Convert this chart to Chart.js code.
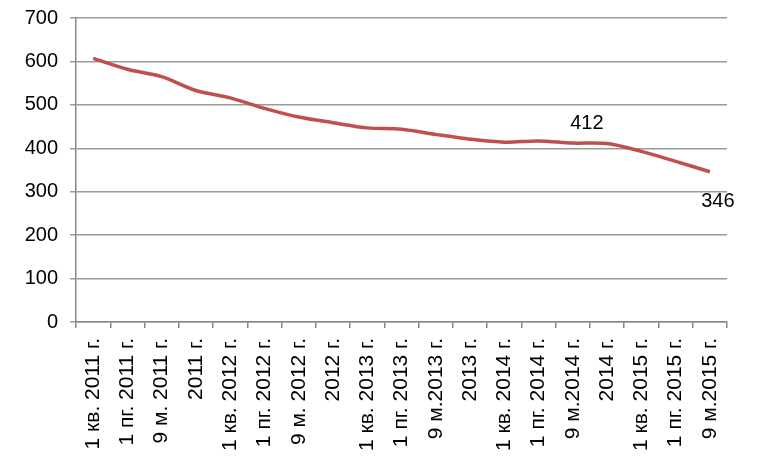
<!DOCTYPE html>
<html>
<head>
<meta charset="utf-8">
<script src="https://cdn.jsdelivr.net/npm/chart.js@4/dist/chart.umd.min.js"></script>
<style>
  html, body { margin: 0; padding: 0; background: #fff; }
  #wrap { width: 774px; height: 469px; }
</style>
</head>
<body>
<div id="wrap"><canvas id="grafik" width="774" height="469"></canvas></div>
<script>
// периоды и значения
const periody = [
  '1 кв. 2011 г.', '1 пг. 2011 г.', '9 м. 2011 г.', '2011 г.',
  '1 кв. 2012 г.', '1 пг. 2012 г.', '9 м. 2012 г.', '2012 г.',
  '1 кв. 2013 г.', '1 пг. 2013 г.', '9 м.2013 г.', '2013 г.',
  '1 кв. 2014 г.', '1 пг. 2014 г.', '9 м.2014 г.', '2014 г.',
  '1 кв. 2015 г.', '1 пг. 2015 г.', '9 м.2015 г.'
];
const znacheniya = [607, 582, 565, 533, 516, 492, 472, 459, 447, 444, 432, 421, 414, 417, 412, 411, 393, 370, 346];
const yTiki = [0, 100, 200, 300, 400, 500, 600, 700];
// подписи только у двух точек: индекс и сдвиг подписи
const podpisi = [
  { i: 14, dx: 14, dy: -20 },
  { i: 18, dx: 8, dy: 30 }
];

const shrift = "'Liberation Sans', Arial, sans-serif";

const podpisiPlugin = {
  id: 'podpisi',
  afterDatasetsDraw(chart) {
    const ctx = chart.ctx;
    const meta = chart.getDatasetMeta(0);
    ctx.save();
    ctx.font = '20px ' + shrift;
    ctx.fillStyle = '#000';
    ctx.textAlign = 'center';
    ctx.textBaseline = 'middle';
    podpisi.forEach(p => {
      const pt = meta.data[p.i];
      ctx.fillText(String(znacheniya[p.i]), pt.x + p.dx, pt.y + p.dy);
    });
    ctx.restore();
  }
};

new Chart(document.getElementById('grafik'), {
  type: 'line',
  data: {
    labels: periody,
    datasets: [{
      data: znacheniya,
      borderColor: '#C0504D',
      borderWidth: 3.5,
      pointRadius: 0,
      tension: 0.3,
      fill: false
    }]
  },
  options: {
    responsive: false,
    animation: false,
    layout: { padding: { top: 0, right: 47, left: 0, bottom: 0 } },
    plugins: {
      legend: { display: false },
      tooltip: { enabled: false }
    },
    scales: {
      x: {
        offset: true,
        grid: { offset: true, drawOnChartArea: false, tickLength: 6, color: '#888', lineWidth: 1.5 },
        border: { color: '#888', width: 1.5 },
        ticks: {
          autoSkip: false, minRotation: 90, maxRotation: 90, padding: 10,
          color: '#000', font: { family: shrift, size: 21 }
        },
        afterFit(scale) { scale.height = 147; }
      },
      y: {
        min: 0, max: 700,
        afterBuildTicks(scale) { scale.ticks = yTiki.map(v => ({ value: v })); },
        grid: { color: '#9a9a9a', lineWidth: 1.5, tickLength: 6 },
        border: { color: '#888', width: 1.5 },
        ticks: { color: '#000', padding: 12, font: { family: shrift, size: 20, lineHeight: 1 } },
        afterFit(scale) { scale.width = 76; scale.paddingTop = 18; }
      }
    }
  },
  plugins: [podpisiPlugin]
});
</script>
</body>
</html>
